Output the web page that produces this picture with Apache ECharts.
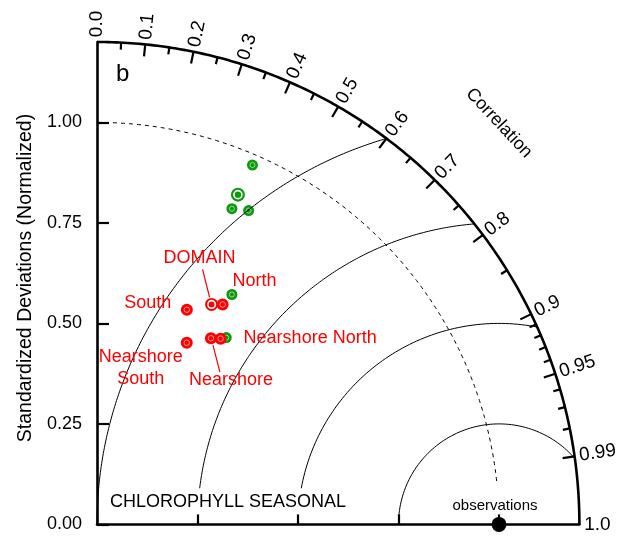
<!DOCTYPE html>
<html><head><meta charset="utf-8">
<script src="https://cdn.jsdelivr.net/npm/echarts@6/dist/echarts.min.js"></script>
<style>html,body{margin:0;padding:0;background:#fff}#c{width:627px;height:540px}</style>
</head><body><div id="c"></div>
<script>
// ---------------- data ----------------
const modelNames = ['DOMAIN', 'North', 'South', 'Nearshore North', 'Nearshore\nSouth', 'Nearshore'];
const redStd    = [0.617, 0.630, 0.579, 0.555, 0.504, 0.543];
const redCorr   = [0.462, 0.496, 0.386, 0.554, 0.443, 0.522];
const greenStd  = [0.892, 0.663, 0.974, 0.565, 0.854, 0.867];
const greenCorr = [0.393, 0.506, 0.397, 0.569, 0.393, 0.435];
const obsStd = 1.0;
const obsCorr = 1.0;
const stdTicks = [0, 0.25, 0.5, 0.75, 1.0];
const xTicks = [0.25, 0.5, 0.75, 1.0];
const corrMajor  = [0, 0.1, 0.2, 0.3, 0.4, 0.5, 0.6, 0.7, 0.8, 0.9, 0.95, 0.99, 1.0];
const corrLabels = ['0.0', '0.1', '0.2', '0.3', '0.4', '0.5', '0.6', '0.7', '0.8', '0.9', '0.95', '0.99', '1.0'];
const corrMinor  = [0.05, 0.15, 0.25, 0.35, 0.45, 0.55, 0.65, 0.75, 0.85, 0.91, 0.92, 0.93, 0.94, 0.96, 0.97, 0.98];
const rmsLevels = [0.25, 0.5, 0.75, 1.0];
const stdMax = 1.2;

// ---------------- style / layout config ----------------
const FONT = '"Liberation Sans", Arial, sans-serif';
const RED = '#ff0000', GREEN = '#0a9a0a';
const rmsMinY = [0.02, 0.09, 0.09, 0.0];      // where each RMS arc stops near the x axis
const labelLayout = [                          // pixel offsets of red labels from their points
  {dx: -12, dy: -46, align: 'center', leader: [[-9, -35], [-2, -7]]},
  {dx: 32, dy: -23, align: 'center'},
  {dx: -39, dy: -7, align: 'center'},
  {dx: 23, dy: -1, align: 'left'},
  {dx: -46, dy: 25, align: 'center'},
  {dx: 20, dy: 42, align: 'center', leader: [[2, 7], [9, 34]]}
];

// ---------------- geometry helpers ----------------
const toXY = (s, c) => [s * c, s * Math.sqrt(Math.max(0, 1 - c * c))];

function rmsArc(R, yMin) {
  const xi = (1 + stdMax * stdMax - R * R) / 2;
  const yi = Math.sqrt(stdMax * stdMax - xi * xi);
  const aStart = Math.atan2(yi, xi - 1);
  const aEnd = Math.PI - Math.asin(Math.min(1, yMin / R));
  const pts = [];
  const n = 160;
  for (let k = 0; k <= n; k++) {
    const a = aStart + (aEnd - aStart) * k / n;
    pts.push([1 + R * Math.cos(a), R * Math.sin(a)]);
  }
  return pts;
}
function stdArc(s, c0, c1) {
  const t0 = Math.acos(c0), t1 = Math.acos(c1);
  const pts = [];
  const n = 200;
  for (let k = 0; k <= n; k++) {
    const t = t0 + (t1 - t0) * k / n;
    pts.push([s * Math.cos(t), s * Math.sin(t)]);
  }
  return pts;
}

const chart = echarts.init(document.getElementById('c'), null, {renderer: 'canvas'});

const series = [];
// RMS arcs
rmsLevels.forEach((R, i) => {
  series.push({
    type: 'line', data: rmsArc(R, rmsMinY[i]), showSymbol: false, clip: false, silent: true,
    lineStyle: {color: '#000', width: 1}, z: 3
  });
});
// dashed std = 1 arc
series.push({
  type: 'line', data: stdArc(obsStd, 0, 0.995), showSymbol: false, clip: false, silent: true,
  lineStyle: {color: '#000', width: 1, type: [4, 4]}, z: 3
});
// outer arc
series.push({
  type: 'line', data: stdArc(stdMax, 0, 1), showSymbol: false, clip: false, silent: true,
  lineStyle: {color: '#000', width: 2.6}, z: 5
});
// correlation ticks
series.push({
  type: 'custom', clip: false, silent: true, z: 5,
  data: corrMajor.slice(1, -1).map(c => [c, 1]).concat(corrMinor.map(c => [c, 0])),
  renderItem: (params, api) => {
    const c = api.value(0), major = api.value(1);
    const rin = major ? stdMax - 0.03 : stdMax - 0.0175;
    const p1 = api.coord(toXY(rin, c)), p2 = api.coord(toXY(stdMax, c));
    return {type: 'line', shape: {x1: p1[0], y1: p1[1], x2: p2[0], y2: p2[1]},
            style: {stroke: '#000', lineWidth: 2.2}};
  }
});
// correlation labels
series.push({
  type: 'custom', clip: false, silent: true, z: 5,
  data: corrMajor.map((c, i) => [c, i]),
  renderItem: (params, api) => {
    const c = api.value(0), i = api.value(1);
    const p = api.coord(toXY(stdMax + 0.012, c));
    return {type: 'text', x: p[0], y: p[1], rotation: Math.acos(c),
            style: {text: corrLabels[i], fill: '#000', font: '19px ' + FONT, align: 'left', verticalAlign: 'middle'}};
  }
});
// green models
series.push({
  type: 'scatter', clip: false, silent: true, z: 2,
  data: greenStd.map((s, i) => ({value: toXY(s, greenCorr[i]), symbolSize: i === 0 ? 14 : 11})),
  symbol: 'circle', itemStyle: {color: GREEN, opacity: 1}
});
series.push({
  type: 'scatter', clip: false, silent: true, z: 2,
  data: greenStd.map((s, i) => ({value: toXY(s, greenCorr[i]), symbolSize: i === 0 ? 8 : 5,
    itemStyle: {borderColor: i === 0 ? '#fff' : 'rgba(255,255,255,0.55)', borderWidth: i === 0 ? 1.6 : 1}})),
  symbol: 'circle', itemStyle: {color: 'rgba(0,0,0,0)', opacity: 1}
});
// red models
series.push({
  type: 'scatter', clip: false, silent: true, z: 6,
  data: redStd.map((s, i) => ({value: toXY(s, redCorr[i]), symbolSize: i === 0 ? 13 : 12})),
  symbol: 'circle', itemStyle: {color: RED, opacity: 1}
});
series.push({
  type: 'scatter', clip: false, silent: true, z: 6,
  data: redStd.map((s, i) => ({value: toXY(s, redCorr[i]), symbolSize: i === 0 ? 7.5 : 5.5,
    itemStyle: {borderColor: i === 0 ? '#fff' : 'rgba(255,255,255,0.55)', borderWidth: i === 0 ? 1.6 : 1}})),
  symbol: 'circle', itemStyle: {color: 'rgba(0,0,0,0)', opacity: 1}
});
// red labels + leaders
series.push({
  type: 'custom', clip: false, silent: true, z: 7,
  data: redStd.map((s, i) => toXY(s, redCorr[i]).concat([i])),
  renderItem: (params, api) => {
    const p = api.coord([api.value(0), api.value(1)]);
    const i = api.value(2);
    const L = labelLayout[i];
    const children = [{
      type: 'text', x: p[0] + L.dx, y: p[1] + L.dy,
      style: {text: modelNames[i], fill: RED, font: '18px ' + FONT, align: L.align, verticalAlign: 'middle', lineHeight: 22}
    }];
    if (L.leader) {
      children.push({type: 'line', shape: {x1: p[0] + L.leader[0][0], y1: p[1] + L.leader[0][1],
        x2: p[0] + L.leader[1][0], y2: p[1] + L.leader[1][1]}, style: {stroke: RED, lineWidth: 1.2}});
    }
    return {type: 'group', children};
  }
});
// observations
series.push({
  type: 'scatter', clip: false, silent: true, z: 8,
  data: [toXY(obsStd, obsCorr)], symbol: 'circle', symbolSize: 15,
  itemStyle: {color: '#000', opacity: 1},
  label: {show: true, formatter: 'observations', position: 'top', distance: 4, offset: [-4, 0],
          color: '#000', fontSize: 15, fontFamily: FONT}
});

chart.setOption({
  animation: false,
  backgroundColor: '#fff',
  grid: {left: 97, top: 42, width: 482.4, height: 482.4, containLabel: false},
  xAxis: {
    type: 'value', min: 0, max: stdMax,
    axisLine: {show: true, onZero: false, lineStyle: {color: '#000', width: 2.6}},
    axisTick: {show: true, inside: true, length: 10, customValues: xTicks, lineStyle: {color: '#000', width: 2.2}},
    axisLabel: {show: false}, splitLine: {show: false}
  },
  yAxis: {
    type: 'value', min: 0, max: stdMax,
    axisLine: {show: true, onZero: false, lineStyle: {color: '#000', width: 2.6}},
    axisTick: {show: true, inside: true, length: 12, customValues: stdTicks, lineStyle: {color: '#000', width: 2.2}},
    axisLabel: {show: true, customValues: stdTicks, formatter: v => v.toFixed(2), color: '#000',
                fontSize: 18, fontFamily: FONT, margin: 15},
    splitLine: {show: false}
  },
  graphic: [
    {type: 'text', x: 26, y: 278, rotation: Math.PI / 2,
     style: {text: 'Standardized Deviations (Normalized)', fill: '#000', font: '19.5px ' + FONT, align: 'center', verticalAlign: 'middle'}},
    {type: 'text', x: 499, y: 123, rotation: -47 * Math.PI / 180,
     style: {text: 'Correlation', fill: '#000', font: '18px ' + FONT, align: 'center', verticalAlign: 'middle'}},
    {type: 'text', x: 116, y: 74,
     style: {text: 'b', fill: '#000', font: '24px ' + FONT, align: 'left', verticalAlign: 'middle'}},
    {type: 'text', x: 110, y: 502,
     style: {text: 'CHLOROPHYLL SEASONAL', fill: '#000', font: '18px ' + FONT, align: 'left', verticalAlign: 'middle'}}
  ],
  series
});
</script></body></html>
